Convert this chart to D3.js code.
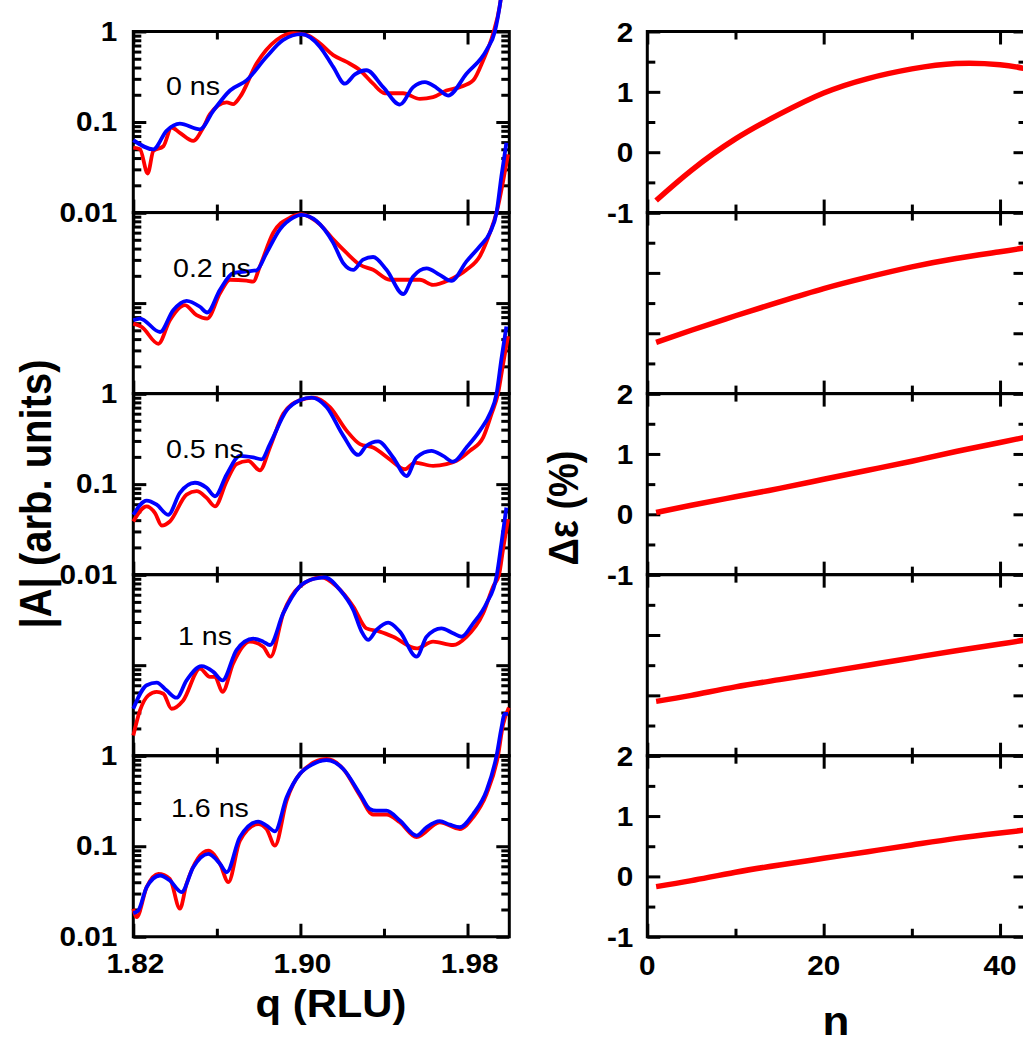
<!DOCTYPE html>
<html>
<head>
<meta charset="utf-8">
<script src="https://cdn.jsdelivr.net/npm/d3@7"></script>
<style>
  html, body { margin: 0; padding: 0; background: #fff; }
  svg { display: block; }
  text { font-family: "Liberation Sans", Arial, Helvetica, sans-serif; fill: #000; }
</style>
</head>
<body>
<script>
// ---------------- DATA ----------------
const delayLabels = ["0 ns", "0.2 ns", "0.5 ns", "1 ns", "1.6 ns"];

const qMajorTicks = [1.82, 1.90, 1.98];
const qMinorTicks = [1.86, 1.94];
const qTickLabels = ["1.82", "1.90", "1.98"];
const ampMajorTicks = [0.01, 0.1, 1];
const ampTickLabels = ["0.01", "0.1", "1"];
const ampMinorTicks = [0.02,0.03,0.04,0.05,0.06,0.07,0.08,0.09,0.2,0.3,0.4,0.5,0.6,0.7,0.8,0.9];

const nMajorTicks = [0, 20, 40];
const nMinorTicks = [10, 30];
const nTickLabels = ["0", "20", "40"];
const strainMajorTicks = [-1, 0, 1, 2];
const strainTickLabels = ["-1", "0", "1", "2"];
const strainMinorTicks = [-0.5, 0.5, 1.5];

// |A| vs q : measured (red) and fit (blue), [q, |A|]
const measured0 = [[1.8200,0.052],[1.8232,0.050],[1.8269,0.027],[1.8296,0.048],[1.8344,0.054],[1.8383,0.087],[1.8423,0.076],[1.8487,0.062],[1.8535,0.087],[1.8567,0.122],[1.8647,0.165],[1.8678,0.158],[1.8710,0.188],[1.8790,0.443],[1.8886,0.807],[1.8966,0.958],[1.9029,0.918],[1.9093,0.741],[1.9157,0.549],[1.9221,0.462],[1.9285,0.373],[1.9348,0.265],[1.9404,0.208],[1.9492,0.208],[1.9572,0.180],[1.9635,0.188],[1.9699,0.223],[1.9763,0.243],[1.9827,0.288],[1.9875,0.482],[1.9923,0.958],[1.9954,1.9],[1.9970,3.5]];
const fit0 = [[1.8200,0.063],[1.8296,0.050],[1.8359,0.080],[1.8423,0.096],[1.8519,0.083],[1.8583,0.133],[1.8663,0.223],[1.8742,0.288],[1.8838,0.526],[1.8918,0.807],[1.9005,0.934],[1.9093,0.680],[1.9157,0.406],[1.9213,0.265],[1.9261,0.336],[1.9316,0.373],[1.9396,0.243],[1.9476,0.156],[1.9540,0.243],[1.9596,0.276],[1.9652,0.239],[1.9707,0.196],[1.9795,0.342],[1.9891,0.624],[1.9931,1.0],[1.9954,1.9],[1.9970,3.5]];

const measured1 = [[1.8200,0.0593],[1.8240,0.0545],[1.8320,0.0355],[1.8375,0.0646],[1.8447,0.095],[1.8503,0.0735],[1.8554,0.0675],[1.8615,0.128],[1.8663,0.181],[1.8742,0.177],[1.8774,0.173],[1.8806,0.254],[1.8870,0.598],[1.8950,0.879],[1.9005,0.958],[1.9093,0.741],[1.9157,0.505],[1.9221,0.358],[1.9285,0.265],[1.9348,0.233],[1.9428,0.181],[1.9508,0.181],[1.9572,0.181],[1.9635,0.159],[1.9715,0.181],[1.9795,0.233],[1.9859,0.329],[1.9907,0.598],[1.9939,1.0],[1.9970,2.2],[1.9994,4.4]];
const fit1 = [[1.8200,0.0646],[1.8232,0.0675],[1.8328,0.0479],[1.8391,0.0835],[1.8455,0.106],[1.8519,0.091],[1.8554,0.0787],[1.8615,0.140],[1.8678,0.214],[1.8742,0.224],[1.8790,0.230],[1.8838,0.358],[1.8902,0.652],[1.8966,0.879],[1.9005,0.942],[1.9077,0.807],[1.9157,0.463],[1.9205,0.277],[1.9253,0.233],[1.9300,0.302],[1.9348,0.323],[1.9412,0.233],[1.9492,0.126],[1.9540,0.197],[1.9604,0.242],[1.9667,0.205],[1.9723,0.176],[1.9795,0.289],[1.9859,0.425],[1.9907,0.598],[1.9939,1.0],[1.9962,2.5],[1.9986,5.9]];

const measured2 = [[1.8200,0.0387],[1.8264,0.0569],[1.8304,0.0479],[1.8336,0.0349],[1.8375,0.0387],[1.8455,0.0767],[1.8503,0.0835],[1.8551,0.0705],[1.8591,0.0569],[1.8647,0.108],[1.8694,0.166],[1.8750,0.181],[1.8806,0.142],[1.8854,0.254],[1.8918,0.598],[1.8997,0.843],[1.9061,0.902],[1.9141,0.710],[1.9221,0.390],[1.9285,0.277],[1.9348,0.254],[1.9428,0.188],[1.9500,0.146],[1.9548,0.173],[1.9635,0.159],[1.9699,0.166],[1.9747,0.181],[1.9811,0.233],[1.9875,0.329],[1.9915,0.598],[1.9946,1.0],[1.9970,2.1],[1.9994,4.3]];
const fit2 = [[1.8200,0.0459],[1.8264,0.0658],[1.8312,0.0593],[1.8367,0.0459],[1.8423,0.080],[1.8495,0.1035],[1.8551,0.091],[1.8591,0.0735],[1.8647,0.128],[1.8710,0.205],[1.8774,0.197],[1.8814,0.188],[1.8854,0.277],[1.8934,0.652],[1.8997,0.843],[1.9053,0.902],[1.9125,0.710],[1.9205,0.343],[1.9277,0.210],[1.9316,0.265],[1.9372,0.296],[1.9444,0.197],[1.9508,0.123],[1.9556,0.197],[1.9627,0.233],[1.9683,0.205],[1.9731,0.177],[1.9795,0.254],[1.9859,0.390],[1.9907,0.598],[1.9939,1.0],[1.9962,2.4],[1.9986,5.5]];

const measured3 = [[1.8200,0.0167],[1.8232,0.0316],[1.8272,0.0464],[1.8312,0.0506],[1.8344,0.0484],[1.8383,0.033],[1.8439,0.0408],[1.8519,0.0918],[1.8567,0.0742],[1.8591,0.0742],[1.8627,0.0506],[1.8678,0.1045],[1.8758,0.182],[1.8822,0.160],[1.8857,0.124],[1.8918,0.375],[1.8997,0.741],[1.9101,0.934],[1.9173,0.741],[1.9253,0.445],[1.9316,0.255],[1.9380,0.235],[1.9444,0.206],[1.9556,0.153],[1.9635,0.182],[1.9731,0.167],[1.9795,0.206],[1.9875,0.375],[1.9923,0.741],[1.9951,1.0],[1.9970,1.9],[1.9994,4.1]];
const fit3 = [[1.8200,0.033],[1.8264,0.060],[1.8312,0.0642],[1.8359,0.0527],[1.8407,0.0437],[1.8455,0.068],[1.8527,0.0975],[1.8583,0.0843],[1.8627,0.068],[1.8694,0.147],[1.8774,0.196],[1.8822,0.182],[1.8854,0.167],[1.8918,0.375],[1.8997,0.741],[1.9061,0.895],[1.9117,0.934],[1.9189,0.681],[1.9253,0.408],[1.9293,0.235],[1.9324,0.190],[1.9364,0.245],[1.9420,0.295],[1.9476,0.235],[1.9556,0.124],[1.9604,0.206],[1.9675,0.255],[1.9731,0.225],[1.9771,0.206],[1.9827,0.290],[1.9891,0.484],[1.9939,0.958],[1.9962,2.2],[1.9986,5.5]];

const measured4 = [[1.8200,0.0204],[1.8216,0.0165],[1.8264,0.0353],[1.8320,0.0495],[1.8375,0.0436],[1.8423,0.0204],[1.8455,0.0385],[1.8559,0.0896],[1.8615,0.0638],[1.8655,0.0401],[1.8710,0.115],[1.8798,0.176],[1.8838,0.155],[1.8878,0.1016],[1.8934,0.319],[1.8997,0.628],[1.9125,0.919],[1.9205,0.713],[1.9285,0.362],[1.9348,0.224],[1.9412,0.224],[1.9476,0.184],[1.9556,0.126],[1.9667,0.184],[1.9763,0.155],[1.9827,0.209],[1.9891,0.378],[1.9946,1.0],[1.9970,2.2],[1.9998,3.4]];
const fit4 = [[1.8200,0.0182],[1.8224,0.0195],[1.8264,0.0353],[1.8328,0.0475],[1.8375,0.0418],[1.8431,0.0311],[1.8487,0.0586],[1.8559,0.0822],[1.8615,0.0638],[1.8647,0.0516],[1.8710,0.126],[1.8798,0.187],[1.8838,0.169],[1.8878,0.146],[1.8934,0.347],[1.8997,0.628],[1.9061,0.809],[1.9125,0.895],[1.9205,0.713],[1.9285,0.378],[1.9332,0.258],[1.9364,0.247],[1.9412,0.247],[1.9476,0.192],[1.9556,0.131],[1.9604,0.162],[1.9667,0.189],[1.9715,0.173],[1.9763,0.162],[1.9827,0.227],[1.9891,0.411],[1.9939,1.0],[1.9962,2.0],[1.9978,2.9],[1.9994,2.9]];

// strain profile Δε (%) vs layer n
const layerN = [1, 5, 10, 15, 20, 25, 30, 35, 40, 43];
const strain0 = [-0.80, -0.30, 0.22, 0.63, 0.98, 1.22, 1.38, 1.47, 1.45, 1.38];
const strain1 = [-0.15, 0.05, 0.29, 0.52, 0.74, 0.93, 1.10, 1.24, 1.35, 1.42];
const strain2 = [0.03, 0.15, 0.29, 0.43, 0.58, 0.73, 0.88, 1.04, 1.19, 1.28];
const strain3 = [-0.10, 0.00, 0.14, 0.26, 0.38, 0.50, 0.62, 0.74, 0.85, 0.92];
const strain4 = [-0.17, -0.07, 0.07, 0.19, 0.30, 0.41, 0.52, 0.63, 0.72, 0.77];

const measuredSets = [measured0, measured1, measured2, measured3, measured4];
const fitSets = [fit0, fit1, fit2, fit3, fit4];
const strainSets = [strain0, strain1, strain2, strain3, strain4];
const labeledPanels = [0, 2, 4];

// ---------------- LAYOUT ----------------
const W = 1023, H = 1046;
const panelTop0 = 31.5, panelH = 181.05;
const leftX0 = 133.3, leftX1 = 509.3;
const rightX0 = 647.3, rightX1 = 1026.5;
const panelLabelPos = [[166, 95], [173, 277], [166, 458], [178, 645], [171, 817]];
const RED = "#ff0000", BLUE = "#0000ff";
const SX = 1.1; // horizontal stretch of the original artwork's text

const svg = d3.select("body").append("svg").attr("width", W).attr("height", H);

const xQ = d3.scaleLinear().domain([1.82, 2.0]).range([leftX0, leftX1]);
const xN = d3.scaleLinear().domain([0, 43]).range([rightX0, rightX1]);

function styleAxis(g) {
  g.select(".domain").remove();
  g.selectAll(".tick line").attr("stroke", "#000").attr("stroke-width", 3).attr("stroke-linecap", "butt");
  g.selectAll(".tick text").remove();
}

function frameTicks(g, xs, ys, xMaj, xMin, yMaj, yMin, top, bottom, x0, x1) {
  const add = (axisFn, scale, vals, size, tr) => {
    g.append("g").attr("transform", tr)
      .call(axisFn(scale).tickValues(vals).tickSize(size).tickFormat(""))
      .call(styleAxis);
  };
  add(d3.axisLeft, ys, yMaj, -13, `translate(${x0},0)`);
  add(d3.axisLeft, ys, yMin, -8, `translate(${x0},0)`);
  add(d3.axisRight, ys, yMaj, -13, `translate(${x1},0)`);
  add(d3.axisRight, ys, yMin, -8, `translate(${x1},0)`);
  add(d3.axisTop, xs, xMaj, -13, `translate(0,${top})`);
  add(d3.axisTop, xs, xMin, -8, `translate(0,${top})`);
  add(d3.axisBottom, xs, xMaj, -13, `translate(0,${bottom})`);
  add(d3.axisBottom, xs, xMin, -8, `translate(0,${bottom})`);
  g.append("rect").attr("x", x0).attr("y", top).attr("width", x1 - x0).attr("height", bottom - top)
    .attr("fill", "none").attr("stroke", "#000").attr("stroke-width", 3);
}

function stretchedText(parent, x, y, txt, size, weight, anchor) {
  return parent.append("text")
    .attr("transform", `translate(${x},${y}) scale(${SX},1)`)
    .attr("text-anchor", anchor)
    .attr("font-size", size)
    .attr("font-weight", weight)
    .text(txt);
}

const axesLayer = svg.append("g");
const curveLayer = svg.append("g");
const textLayer = svg.append("g");

for (let i = 0; i < 5; i++) {
  const top = panelTop0 + i * panelH, bottom = top + panelH;

  // ---- left: |A| vs q (log) ----
  const yA = d3.scaleLog().domain([0.01, 1]).range([bottom, top]);
  frameTicks(axesLayer.append("g"), xQ, yA, qMajorTicks, qMinorTicks, ampMajorTicks, ampMinorTicks, top, bottom, leftX0, leftX1);

  const lineA = d3.line().x(d => xQ(d[0])).y(d => yA(d[1])).curve(d3.curveMonotoneX);
  curveLayer.append("path").datum(measuredSets[i]).attr("d", lineA)
    .attr("fill", "none").attr("stroke", RED).attr("stroke-width", 3.8).attr("stroke-linejoin", "round");
  curveLayer.append("path").datum(fitSets[i]).attr("d", lineA)
    .attr("fill", "none").attr("stroke", BLUE).attr("stroke-width", 3.8).attr("stroke-linejoin", "round");

  stretchedText(textLayer, panelLabelPos[i][0], panelLabelPos[i][1], delayLabels[i], 26, "normal", "start");

  // ---- right: Δε vs n ----
  const yS = d3.scaleLinear().domain([-1, 2]).range([bottom, top]);
  frameTicks(axesLayer.append("g"), xN, yS, nMajorTicks, nMinorTicks, strainMajorTicks, strainMinorTicks, top, bottom, rightX0, rightX1);

  const lineS = d3.line().x((d, k) => xN(layerN[k])).y(d => yS(d)).curve(d3.curveNatural);
  curveLayer.append("path").datum(strainSets[i]).attr("d", lineS)
    .attr("fill", "none").attr("stroke", RED).attr("stroke-width", 5.5).attr("stroke-linecap", "butt");

  if (labeledPanels.includes(i)) {
    ampMajorTicks.forEach((v, k) => {
      stretchedText(textLayer, leftX0 - 16, yA(v) + 9, ampTickLabels[k], 27, "bold", "end");
    });
    strainMajorTicks.forEach((v, k) => {
      stretchedText(textLayer, rightX0 - 14, yS(v) + 10, strainTickLabels[k], 27, "bold", "end");
    });
  }
  if (i === 4) {
    qMajorTicks.forEach((v, k) => {
      stretchedText(textLayer, xQ(v) + 2, bottom + 36, qTickLabels[k], 27, "bold", "middle");
    });
    nMajorTicks.forEach((v, k) => {
      stretchedText(textLayer, xN(v), bottom + 38, nTickLabels[k], 27, "bold", "middle");
    });
  }
}

// axis titles
stretchedText(textLayer, 331, 1017, "q (RLU)", 38, "bold", "middle");
stretchedText(textLayer, 836, 1035, "n", 40, "bold", "middle");

textLayer.append("text")
  .attr("transform", `translate(51,494) rotate(-90) scale(1,${SX})`)
  .attr("text-anchor", "middle").attr("font-size", 40).attr("font-weight", "bold")
  .text("|A| (arb. units)");

textLayer.append("text")
  .attr("transform", `translate(578,508) rotate(-90) scale(1,${SX})`)
  .attr("text-anchor", "middle").attr("font-size", 38).attr("font-weight", "bold")
  .text("Δε (%)");
</script>
</body>
</html>
